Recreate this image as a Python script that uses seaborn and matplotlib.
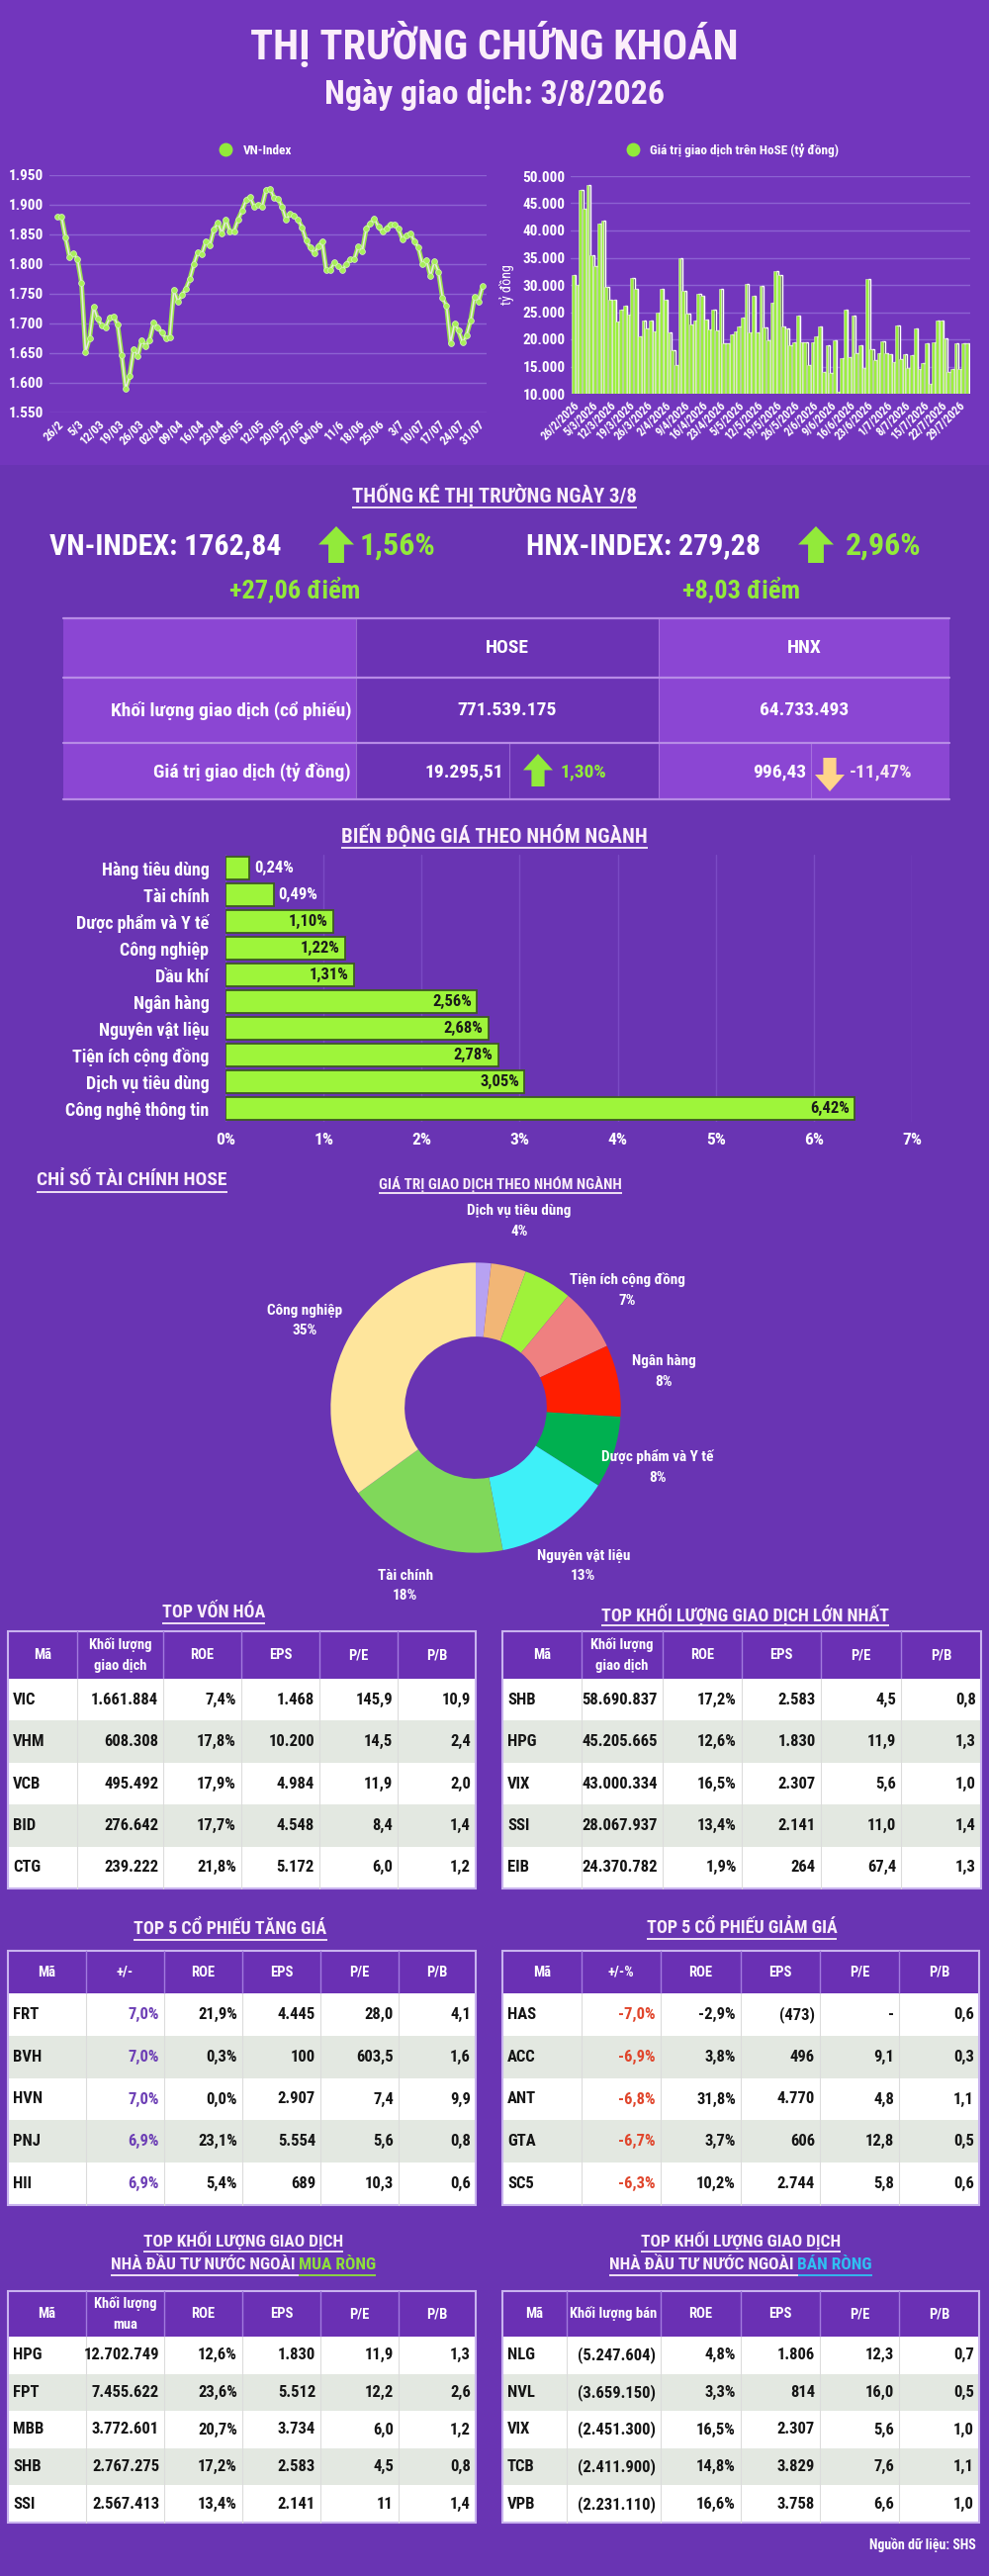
import numpy as np
import pandas as pd
import matplotlib
matplotlib.use("Agg")
import matplotlib.pyplot as plt
import matplotlib.font_manager as fm
from matplotlib.patches import Rectangle, Polygon
from matplotlib.lines import Line2D
import seaborn as sns

# ------------------------------------------------------------------ data
title = "THỊ TRƯỜNG CHỨNG KHOÁN"
subtitle = "Ngày giao dịch: 3/8/2026"

vn_index = [1880, 1880, 1845, 1812, 1818, 1808, 1768, 1652, 1675, 1728,
            1708, 1697, 1693, 1710, 1712, 1698, 1647, 1590, 1612, 1657,
            1645, 1672, 1662, 1672, 1702, 1693, 1685, 1675, 1677, 1757,
            1737, 1748, 1758, 1775, 1800, 1820, 1817, 1838, 1832, 1858,
            1870, 1852, 1875, 1855, 1855, 1875, 1890, 1908, 1913, 1897,
            1900, 1897, 1925, 1927, 1912, 1910, 1897, 1875, 1885, 1882,
            1875, 1862, 1840, 1828, 1818, 1830, 1838, 1790, 1790, 1803,
            1797, 1790, 1800, 1808, 1808, 1830, 1822, 1860, 1868, 1877,
            1863, 1855, 1860, 1867, 1867, 1860, 1842, 1848, 1852, 1838,
            1828, 1800, 1807, 1780, 1805, 1787, 1743, 1730, 1667, 1700,
            1688, 1668, 1680, 1705, 1745, 1737, 1762.84]
vn_ticks = ["26/2", "5/3", "12/03", "19/03", "26/03", "02/04", "09/04", "16/04",
            "23/04", "05/05", "12/05", "20/05", "27/05", "04/06", "11/6", "18/06",
            "25/06", "3/7", "10/07", "17/07", "24/07", "31/07"]

hose_value = [31800, 30000, 47500, 44000, 48300, 35500, 33500, 41200, 41800, 29700,
              27300, 27300, 23300, 25500, 26200, 24600, 31200, 29300, 20600, 23400,
              22000, 23500, 21500, 25000, 29200, 27300, 21200, 18000, 15200, 35000,
              28900, 24800, 22700, 23500, 28300, 28000, 23600, 21800, 25400, 21700,
              29300, 19300, 19300, 21000, 21500, 22400, 24000, 30100, 21200, 28000,
              21200, 29900, 22200, 19800, 26800, 32500, 31900, 22300, 22000, 19000,
              19500, 24300, 19500, 19500, 15300, 19400, 20600, 22300, 14000, 19000,
              13800, 19800, 10300, 16500, 25500, 16800, 24300, 17500, 18900, 14700,
              31100, 18200, 16200, 17500, 19700, 17400, 17300, 15800, 22600, 16400,
              17300, 14800, 17100, 22000, 14500, 15700, 19300, 11800, 19500, 23500,
              23500, 20200, 14000, 14600, 19300, 14500, 19300, 19296]
hose_ticks = ["26/2/2026", "5/3/2026", "12/3/2026", "19/3/2026", "26/3/2026", "2/4/2026",
              "9/4/2026", "16/4/2026", "23/4/2026", "5/5/2026", "12/5/2026", "19/5/2026",
              "26/5/2026", "2/6/2026", "9/6/2026", "16/6/2026", "23/6/2026", "1/7/2026",
              "8/7/2026", "15/7/2026", "22/7/2026", "29/7/2026"]

vn_index_text = "VN-INDEX: 1762,84"
vn_pct = "1,56%"
vn_pts = "+27,06 điểm"
hnx_index_text = "HNX-INDEX: 279,28"
hnx_pct = "2,96%"
hnx_pts = "+8,03 điểm"

stat_labels = ["Khối lượng giao dịch (cổ phiếu)", "Giá trị giao dịch (tỷ đồng)"]
hose_stats = ["771.539.175", "19.295,51", "1,30%"]
hnx_stats = ["64.733.493", "996,43", "-11,47%"]

sector_names = ["Hàng tiêu dùng", "Tài chính", "Dược phẩm và Y tế", "Công nghiệp", "Dầu khí",
                "Ngân hàng", "Nguyên vật liệu", "Tiện ích cộng đồng", "Dịch vụ tiêu dùng",
                "Công nghệ thông tin"]
sector_change = [0.24, 0.49, 1.10, 1.22, 1.31, 2.56, 2.68, 2.78, 3.05, 6.42]

pie_names = ["Dầu khí", "Dịch vụ tiêu dùng", "Hàng tiêu dùng", "Tiện ích cộng đồng", "Ngân hàng",
             "Dược phẩm và Y tế", "Nguyên vật liệu", "Tài chính", "Công nghiệp"]
pie_share = [1.7, 3.9, 5.4, 7.0, 8.0, 8.0, 13.0, 18.0, 35.0]
pie_shown = [False, True, False, True, True, True, True, True, True]
pie_colors = ["#b7a2f2", "#f2b676", "#9ff23a", "#ef8080", "#ff1e00", "#00b050",
              "#3ef0f8", "#80d85a", "#fee59c"]

cap_head = ["Mã", "Khối lượng\ngiao dịch", "ROE", "EPS", "P/E", "P/B"]
cap_code = ["VIC", "VHM", "VCB", "BID", "CTG"]
cap_vol = ["1.661.884", "608.308", "495.492", "276.642", "239.222"]
cap_roe = ["7,4%", "17,8%", "17,9%", "17,7%", "21,8%"]
cap_eps = ["1.468", "10.200", "4.984", "4.548", "5.172"]
cap_pe = ["145,9", "14,5", "11,9", "8,4", "6,0"]
cap_pb = ["10,9", "2,4", "2,0", "1,4", "1,2"]

vol_head = ["Mã", "Khối lượng\ngiao dịch", "ROE", "EPS", "P/E", "P/B"]
vol_code = ["SHB", "HPG", "VIX", "SSI", "EIB"]
vol_vol = ["58.690.837", "45.205.665", "43.000.334", "28.067.937", "24.370.782"]
vol_roe = ["17,2%", "12,6%", "16,5%", "13,4%", "1,9%"]
vol_eps = ["2.583", "1.830", "2.307", "2.141", "264"]
vol_pe = ["4,5", "11,9", "5,6", "11,0", "67,4"]
vol_pb = ["0,8", "1,3", "1,0", "1,4", "1,3"]

up_head = ["Mã", "+/-", "ROE", "EPS", "P/E", "P/B"]
up_code = ["FRT", "BVH", "HVN", "PNJ", "HII"]
up_chg = ["7,0%", "7,0%", "7,0%", "6,9%", "6,9%"]
up_roe = ["21,9%", "0,3%", "0,0%", "23,1%", "5,4%"]
up_eps = ["4.445", "100", "2.907", "5.554", "689"]
up_pe = ["28,0", "603,5", "7,4", "5,6", "10,3"]
up_pb = ["4,1", "1,6", "9,9", "0,8", "0,6"]

dn_head = ["Mã", "+/-%", "ROE", "EPS", "P/E", "P/B"]
dn_code = ["HAS", "ACC", "ANT", "GTA", "SC5"]
dn_chg = ["-7,0%", "-6,9%", "-6,8%", "-6,7%", "-6,3%"]
dn_roe = ["-2,9%", "3,8%", "31,8%", "3,7%", "10,2%"]
dn_eps = ["(473)", "496", "4.770", "606", "2.744"]
dn_pe = ["-", "9,1", "4,8", "12,8", "5,8"]
dn_pb = ["0,6", "0,3", "1,1", "0,5", "0,6"]

buy_head = ["Mã", "Khối lượng\nmua", "ROE", "EPS", "P/E", "P/B"]
buy_code = ["HPG", "FPT", "MBB", "SHB", "SSI"]
buy_vol = ["12.702.749", "7.455.622", "3.772.601", "2.767.275", "2.567.413"]
buy_roe = ["12,6%", "23,6%", "20,7%", "17,2%", "13,4%"]
buy_eps = ["1.830", "5.512", "3.734", "2.583", "2.141"]
buy_pe = ["11,9", "12,2", "6,0", "4,5", "11"]
buy_pb = ["1,3", "2,6", "1,2", "0,8", "1,4"]

sell_head = ["Mã", "Khối lượng bán", "ROE", "EPS", "P/E", "P/B"]
sell_code = ["NLG", "NVL", "VIX", "TCB", "VPB"]
sell_vol = ["(5.247.604)", "(3.659.150)", "(2.451.300)", "(2.411.900)", "(2.231.110)"]
sell_roe = ["4,8%", "3,3%", "16,5%", "14,8%", "16,6%"]
sell_eps = ["1.806", "814", "2.307", "3.829", "3.758"]
sell_pe = ["12,3", "16,0", "5,6", "7,6", "6,6"]
sell_pb = ["0,7", "0,5", "1,0", "1,1", "1,0"]

source = "Nguồn dữ liệu: SHS"

# ------------------------------------------------------------------ fonts / theme
sns.set_theme(style="white")
ttf = fm.fontManager.ttflist
names = {f.name for f in ttf}
FAM, STR, COND = "Roboto", "normal", False
for c in ["Roboto Condensed", "Liberation Sans Narrow", "Open Sans Condensed",
          "Noto Sans Condensed", "DejaVu Sans Condensed"]:
    if c in names:
        FAM, COND = c, True
        break
if not COND:
    for base in ["Roboto", "Noto Sans", "Open Sans", "Liberation Sans", "DejaVu Sans"]:
        st = [f.stretch for f in ttf if f.name == base and
              str(f.stretch) in ("condensed", "semi-condensed", "extra-condensed")]
        if st:
            FAM, STR, COND = base, st[0], True
            break
if FAM not in names:
    FAM = "DejaVu Sans"
plt.rcParams["font.family"] = [FAM, "DejaVu Sans"]
plt.rcParams["font.stretch"] = STR
plt.rcParams["font.weight"] = "bold"
plt.rcParams["text.color"] = "white"
plt.rcParams["xtick.color"] = "white"
plt.rcParams["ytick.color"] = "white"
K = 1.0 if COND else 0.85   # size factor for wide fonts

W, H = 1000, 2604
BG = "#6934b3"
TXT = "#fbeefa"
GREEN = "#92ea3a"
fig = plt.figure(figsize=(10, 26.04), dpi=100)
fig.patch.set_facecolor(BG)
L = fig.add_axes([0, 0, 1, 1])
L.set_xlim(0, W)
L.set_ylim(H, 0)
L.axis("off")
L.add_patch(Rectangle((0, 0), W, 470, fc="#7236bd", ec="none"))
renderer = fig.canvas.get_renderer()


def pax(x0, y0, x1, y1):
    a = fig.add_axes([x0 / W, 1 - y1 / H, (x1 - x0) / W, (y1 - y0) / H])
    a.set_facecolor("none")
    return a


def vnfmt(v):
    return f"{int(v):,}".replace(",", ".")


def utitle(x, y, parts, size, ha="center", lw=1.3):
    widths = []
    for s, c in parts:
        t = L.text(0, 0, s, fontsize=size)
        widths.append(t.get_window_extent(renderer).width)
        t.remove()
    total = sum(widths)
    cur = x - total / 2 if ha == "center" else x
    uy = y + size * 100 / 72 * 0.62
    for (s, c), w in zip(parts, widths):
        L.text(cur, y, s, fontsize=size, color=c, ha="left", va="center")
        L.plot([cur, cur + w], [uy, uy], color=c, lw=lw, solid_capstyle="butt")
        cur += w


def arrow(xc, ytop, ybot, w, color, up=True):
    hw, sw, hl = w / 2, w * 0.22, (ybot - ytop) * 0.5
    if up:
        pts = [(xc, ytop), (xc + hw, ytop + hl), (xc + sw, ytop + hl), (xc + sw, ybot),
               (xc - sw, ybot), (xc - sw, ytop + hl), (xc - hw, ytop + hl)]
    else:
        pts = [(xc, ybot), (xc + hw, ybot - hl), (xc + sw, ybot - hl), (xc + sw, ytop),
               (xc - sw, ytop), (xc - sw, ybot - hl), (xc - hw, ybot - hl)]
    L.add_patch(Polygon(pts, closed=True, fc=color, ec="none"))


# ------------------------------------------------------------------ header
L.text(500, 45, title, fontsize=30.5 * K, color=TXT, ha="center", va="center")
L.text(500, 96, subtitle, fontsize=24.5 * K, color=TXT, ha="center", va="center")

# ------------------------------------------------------------------ VN-Index line
df_vn = pd.DataFrame({"day": np.arange(len(vn_index)), "VN-Index": vn_index})
ax1 = pax(50, 177, 492, 417)
sns.lineplot(data=df_vn, x="day", y="VN-Index", ax=ax1, color="#9be24c", lw=3.4, zorder=3)
sns.lineplot(data=df_vn, x="day", y="VN-Index", ax=ax1, color="#e8e8e2", lw=1.2, zorder=4,
             marker="o", markersize=4.2, markerfacecolor="#a8ef5a",
             markeredgecolor="#d8f2c0", markeredgewidth=0.5)
ax1.set_xlim(-2, 107)
ax1.set_ylim(1550, 1950)
ax1.set_yticks(range(1550, 1951, 50))
ax1.set_yticklabels([vnfmt(v) for v in range(1550, 1951, 50)], fontsize=11)
ax1.set_xticks(np.arange(0, 5 * len(vn_ticks), 5))
ax1.set_xticklabels(vn_ticks, rotation=45, ha="right", rotation_mode="anchor", fontsize=9)
ax1.grid(axis="y", color="#8c62d2", lw=1)
ax1.grid(axis="x", visible=False)
ax1.tick_params(length=0, pad=4)
ax1.set_xlabel("")
ax1.set_ylabel("")
sns.despine(ax=ax1, left=True, bottom=True)
ax1.legend(handles=[Line2D([], [], marker="o", ls="none", color=GREEN, markersize=9,
                           label="VN-Index")],
           loc="center", bbox_to_anchor=(255 / W, 1 - 152 / H), bbox_transform=fig.transFigure,
           frameon=False, labelcolor="white", fontsize=9.5, handletextpad=0.3)

# ------------------------------------------------------------------ HoSE value bars
df_val = pd.DataFrame({"day": np.arange(len(hose_value)), "value": hose_value})
ax2 = pax(577, 178, 981, 398)
ax2.bar(df_val["day"] + 0.5, df_val["value"], width=0.6, color="#55545f", zorder=1)
sns.barplot(data=df_val, x="day", y="value", ax=ax2, color="#9cf03e", saturation=1,
            width=0.74, edgecolor="#e2ecd2", linewidth=0.4, zorder=2)
ax2.set_xlim(-0.6, len(hose_value))
ax2.set_ylim(10000, 50000)
ax2.set_yticks(range(10000, 50001, 5000))
ax2.set_yticklabels([vnfmt(v) for v in range(10000, 50001, 5000)], fontsize=11)
ax2.set_xticks(np.arange(0, 5 * len(hose_ticks), 5))
ax2.set_xticklabels(hose_ticks, rotation=45, ha="right", rotation_mode="anchor", fontsize=8.5)
ax2.grid(axis="y", color="#8c62d2", lw=1, zorder=0)
ax2.set_axisbelow(True)
ax2.tick_params(length=0, pad=4)
ax2.set_xlabel("")
ax2.set_ylabel("tỷ đồng", fontsize=10, color="white", labelpad=6)
sns.despine(ax=ax2, left=True, bottom=True)
ax2.legend(handles=[Line2D([], [], marker="o", ls="none", color=GREEN, markersize=9,
                           label="Giá trị giao dịch trên HoSE (tỷ đồng)")],
           loc="center", bbox_to_anchor=(737 / W, 1 - 152 / H), bbox_transform=fig.transFigure,
           frameon=False, labelcolor="white", fontsize=9.5, handletextpad=0.3)

# ------------------------------------------------------------------ market stats
utitle(500, 500, [("THỐNG KÊ THỊ TRƯỜNG NGÀY 3/8", TXT)], 15 * K)
L.text(50, 552, vn_index_text, fontsize=21.5 * K, color="white", ha="left", va="center")
arrow(340, 532, 569, 36, GREEN)
L.text(364, 552, vn_pct, fontsize=23 * K, color=GREEN, ha="left", va="center")
L.text(298, 597, vn_pts, fontsize=19 * K, color=GREEN, ha="center", va="center")
L.text(532, 552, hnx_index_text, fontsize=21.5 * K, color="white", ha="left", va="center")
arrow(825, 532, 569, 36, GREEN)
L.text(855, 552, hnx_pct, fontsize=23 * K, color=GREEN, ha="left", va="center")
L.text(750, 597, hnx_pts, fontsize=19 * K, color=GREEN, ha="center", va="center")

LIGHT, DARK, LINE = "#8b46d3", "#6b33b5", "#b78be6"
L.add_patch(Rectangle((64, 625), 296, 183, fc=LIGHT, ec="none"))
L.add_patch(Rectangle((360, 625), 306, 183, fc=DARK, ec="none"))
L.add_patch(Rectangle((666, 625), 294, 183, fc=LIGHT, ec="none"))
for yy in [625, 685, 751, 808]:
    L.plot([64, 960], [yy, yy], color=LINE, lw=1.6)
for xx in [360, 666]:
    L.plot([xx, xx], [625, 808], color=LINE, lw=0.8, alpha=0.6)
for xx in [515, 820]:
    L.plot([xx, xx], [751, 808], color=LINE, lw=0.8, alpha=0.6)
SS = 14 * K
L.text(513, 655, "HOSE", fontsize=SS, ha="center", va="center")
L.text(813, 655, "HNX", fontsize=SS, ha="center", va="center")
L.text(355, 718, stat_labels[0], fontsize=SS, ha="right", va="center")
L.text(355, 780, stat_labels[1], fontsize=SS, ha="right", va="center")
L.text(513, 718, hose_stats[0], fontsize=SS, ha="center", va="center")
L.text(813, 718, hnx_stats[0], fontsize=SS, ha="center", va="center")
L.text(509, 780, hose_stats[1], fontsize=SS, ha="right", va="center")
arrow(544, 762, 795, 30, GREEN)
L.text(567, 780, hose_stats[2], fontsize=SS, color=GREEN, ha="left", va="center")
L.text(815, 780, hnx_stats[1], fontsize=SS, ha="right", va="center")
arrow(839, 766, 800, 30, "#ffd48a", up=False)
L.text(859, 780, hnx_stats[2], fontsize=SS, color="#f6e6f0", ha="left", va="center")

# ------------------------------------------------------------------ sector change bars
utitle(500, 844, [("BIẾN ĐỘNG GIÁ THEO NHÓM NGÀNH", TXT)], 15 * K)
df_sec = pd.DataFrame({"sector": sector_names, "change": sector_change})
ax3 = pax(228, 864, 922, 1134)
ax3.grid(axis="x", color="#7a4ac4", lw=1)
ax3.set_axisbelow(True)
sns.barplot(data=df_sec, x="change", y="sector", orient="h", ax=ax3, color="#9ef53a",
            saturation=1, width=0.86, edgecolor="#3e5a22", linewidth=1.3)
ax3.set_xlim(0, 7)
ax3.set_xticks(range(0, 8))
ax3.set_xticklabels([f"{i}%" for i in range(0, 8)], fontsize=12.5)
ax3.tick_params(axis="y", labelsize=13 * K, length=0, pad=12)
ax3.tick_params(axis="x", length=0, pad=8)
ax3.set_xlabel("")
ax3.set_ylabel("")
sns.despine(ax=ax3, left=True, bottom=True)
for i, v in enumerate(sector_change):
    lab = f"{v:.2f}%".replace(".", ",")
    if v < 1:
        ax3.text(v + 0.05, i, lab, ha="left", va="center", fontsize=12 * K, color="white")
    else:
        ax3.text(v - 0.05, i, lab, ha="right", va="center", fontsize=12 * K, color="#1a1a1a")

# ------------------------------------------------------------------ donut
utitle(37, 1193, [("CHỈ SỐ TÀI CHÍNH HOSE", TXT)], 14 * K, ha="left")
utitle(506, 1197, [("GIÁ TRỊ GIAO DỊCH THEO NHÓM NGÀNH", TXT)], 11 * K)
ax4 = pax(481 - 220, 1423 - 220, 481 + 220, 1423 + 220)
wedges, _ = ax4.pie(pie_share, colors=pie_colors, startangle=90, counterclock=False,
                    radius=1, wedgeprops=dict(width=0.51, linewidth=0))
ax4.set_xlim(-1.5, 1.5)
ax4.set_ylim(-1.5, 1.5)
ax4.set_aspect("equal")
for w, name, share, show in zip(wedges, pie_names, pie_share, pie_shown):
    if not show:
        continue
    ang = np.deg2rad((w.theta1 + w.theta2) / 2)
    ax4.text(1.32 * np.cos(ang), 1.32 * np.sin(ang), f"{name}\n{round(share)}%",
             ha="center", va="center", fontsize=11 * K, color="white", linespacing=1.6)


# ------------------------------------------------------------------ tables
def draw_table(xs, ytop, hh, rh, headers, cols, colors=None, hsize=10.5, csize=12):
    n = len(cols[0])
    x0, x1 = xs[0], xs[-1]
    L.add_patch(Rectangle((x0, ytop), x1 - x0, hh, fc="#6a30b4", ec="none"))
    for j, h in enumerate(headers):
        L.text((xs[j] + xs[j + 1]) / 2, ytop + hh / 2, h, ha="center", va="center",
               color="white", fontsize=hsize * K, linespacing=1.6)
    for i in range(n):
        y = ytop + hh + i * rh
        L.add_patch(Rectangle((x0, y), x1 - x0, rh, fc="white" if i % 2 == 0 else "#e3e8e1",
                              ec="none"))
        for j, col in enumerate(cols):
            c = colors[j] if colors and colors[j] else "#151515"
            if j == 0:
                L.text(xs[0] + 5, y + rh / 2, col[i], ha="left", va="center", color=c,
                       fontsize=csize * K)
            else:
                L.text(xs[j + 1] - 5, y + rh / 2, col[i], ha="right", va="center", color=c,
                       fontsize=csize * K)
    ybot = ytop + hh + n * rh
    for xx in xs[1:-1]:
        L.plot([xx, xx], [ytop, ytop + hh], color="#a27ade", lw=1)
        L.plot([xx, xx], [ytop + hh, ybot], color="#dcdcdc", lw=0.8)
    L.add_patch(Rectangle((x0, ytop), x1 - x0, ybot - ytop, fill=False, ec="#c9b3ef", lw=1.5))


utitle(216, 1630, [("TOP VỐN HÓA", TXT)], 13 * K)
utitle(753, 1632, [("TOP KHỐI LƯỢNG GIAO DỊCH LỚN NHẤT", TXT)], 13 * K)
draw_table([8, 78, 165, 244, 323, 402, 481], 1649, 48, 42.4, cap_head,
           [cap_code, cap_vol, cap_roe, cap_eps, cap_pe, cap_pb])
draw_table([508, 588, 670, 750, 830, 911, 992], 1649, 48, 42.4, vol_head,
           [vol_code, vol_vol, vol_roe, vol_eps, vol_pe, vol_pb])

utitle(233, 1950, [("TOP 5 CỔ PHIẾU TĂNG GIÁ", TXT)], 13 * K)
utitle(750, 1949, [("TOP 5 CỔ PHIẾU GIẢM GIÁ", TXT)], 13 * K)
draw_table([8, 87, 166, 245, 324, 403, 481], 1972, 43, 42.8, up_head,
           [up_code, up_chg, up_roe, up_eps, up_pe, up_pb],
           colors=[None, "#6d3fb5", None, None, None, None])
draw_table([508, 588, 668, 749, 829, 909, 990], 1972, 43, 42.8, dn_head,
           [dn_code, dn_chg, dn_roe, dn_eps, dn_pe, dn_pb],
           colors=[None, "#e0452b", None, None, None, None])

utitle(246, 2265, [("TOP KHỐI LƯỢNG GIAO DỊCH", TXT)], 12.5 * K)
utitle(246, 2289, [("NHÀ ĐẦU TƯ NƯỚC NGOÀI ", TXT), ("MUA RÒNG", "#8ee03a")], 12.5 * K)
utitle(749, 2265, [("TOP KHỐI LƯỢNG GIAO DỊCH", TXT)], 12.5 * K)
utitle(749, 2289, [("NHÀ ĐẦU TƯ NƯỚC NGOÀI ", TXT), ("BÁN RÒNG", "#2fc0f2")], 12.5 * K)
draw_table([8, 87, 166, 245, 324, 403, 481], 2316, 46, 37.6, buy_head,
           [buy_code, buy_vol, buy_roe, buy_eps, buy_pe, buy_pb])
draw_table([508, 573, 668, 749, 829, 909, 990], 2316, 46, 37.6, sell_head,
           [sell_code, sell_vol, sell_roe, sell_eps, sell_pe, sell_pb])

L.text(987, 2573, source, fontsize=10 * K, ha="right", va="center", color="white")

fig.savefig("out.png", dpi=100, facecolor=fig.get_facecolor())
